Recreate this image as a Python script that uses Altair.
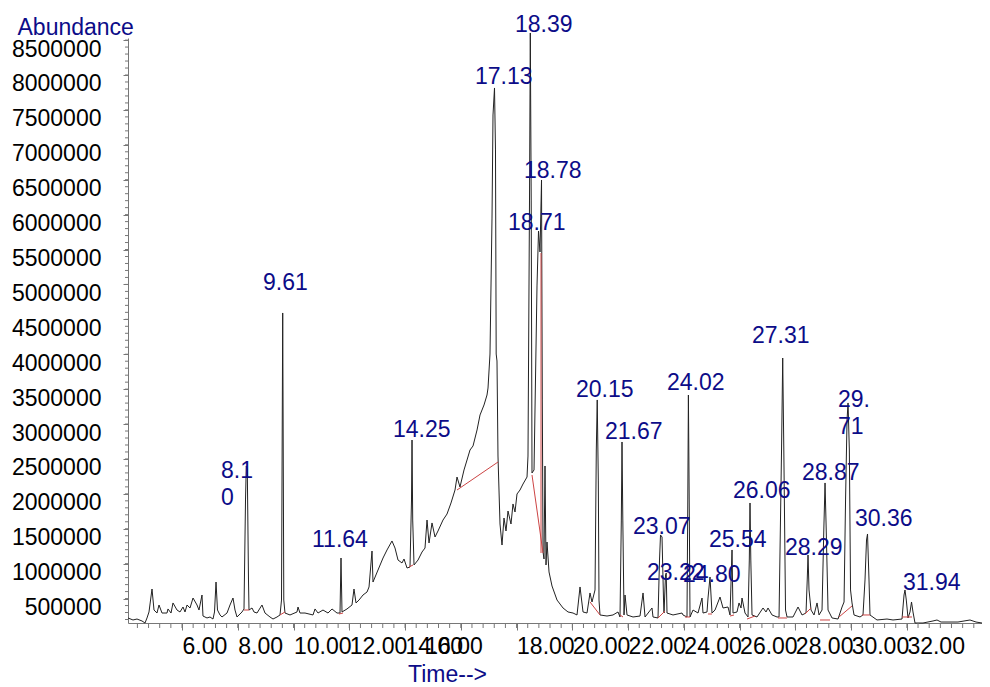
import altair as alt
import pandas as pd

# ---- chromatogram trace (retention time in min, abundance) ----
trace_time = [
    4.063, 4.242, 4.386, 4.565, 4.673, 4.745, 4.816, 4.924, 4.996, 5.103,
    5.175, 5.283, 5.462, 5.498, 5.606, 5.677, 5.821, 5.928, 6.036, 6.108,
    6.180, 6.287, 6.395, 6.538, 6.610, 6.717, 6.753, 6.897, 7.004, 7.112,
    7.166, 7.220, 7.273, 7.363, 7.435, 7.614, 7.722, 7.829, 7.901, 7.973,
    8.152, 8.224, 8.278, 8.306, 8.342, 8.385, 8.403, 8.511, 8.582, 8.690,
    8.869, 8.977, 9.156, 9.264, 9.407, 9.515, 9.569, 9.612, 9.651, 9.694,
    9.874, 10.125, 10.161, 10.232, 10.412, 10.699, 10.771, 10.878, 11.057, 11.237,
    11.380, 11.559, 11.667, 11.703, 11.739, 11.918, 12.097, 12.169, 12.241, 12.349,
    12.492, 12.636, 12.708, 12.815, 12.851, 13.030, 13.210, 13.353, 13.532, 13.640,
    13.748, 13.891, 13.963, 14.071, 14.178, 14.232, 14.250, 14.275, 14.322, 14.465,
    14.609, 14.716, 14.788, 14.860, 14.967, 15.075, 15.182, 15.361, 15.505, 15.648,
    15.792, 15.864, 15.971, 16.115, 16.223, 16.330, 16.438, 16.582, 16.689, 16.832,
    16.940, 16.976, 17.047, 17.119, 17.155, 17.209, 17.244, 17.269, 17.298, 17.334,
    17.406, 17.478, 17.549, 17.621, 17.693, 17.800, 17.872, 17.944, 18.016, 18.123,
    18.231, 18.375, 18.410, 18.464, 18.493, 18.525, 18.554, 18.626, 18.733, 18.787,
    18.841, 18.895, 18.923, 18.949, 18.984, 19.020, 19.056, 19.092, 19.164, 19.271,
    19.451, 19.666, 19.845, 20.025, 20.168, 20.276, 20.384, 20.527, 20.634, 20.706,
    20.814, 20.860, 20.893, 20.932, 20.957, 20.993, 21.244, 21.459, 21.639, 21.710,
    21.757, 21.782, 21.811, 21.854, 21.890, 21.962, 22.177, 22.428, 22.536, 22.608,
    22.858, 22.894, 23.073, 23.127, 23.163, 23.217, 23.271, 23.289, 23.343, 23.368,
    23.396, 23.611, 23.934, 23.970, 24.113, 24.142, 24.163, 24.192, 24.221, 24.329,
    24.508, 24.652, 24.687, 24.831, 24.867, 24.938, 25.010, 25.118, 25.297, 25.405,
    25.584, 25.656, 25.728, 25.763, 25.907, 25.979, 26.051, 26.086, 26.194, 26.302,
    26.348, 26.373, 26.402, 26.445, 26.624, 26.840, 26.947, 27.019, 27.163, 27.342,
    27.414, 27.504, 27.546, 27.586, 27.647, 27.701, 27.916, 28.095, 28.239, 28.382,
    28.425, 28.454, 28.490, 28.562, 28.669, 28.777, 28.849, 28.956, 29.020, 29.064,
    29.107, 29.172, 29.315, 29.530, 29.674, 29.746, 29.800, 29.853, 29.889, 29.936,
    29.979, 30.032, 30.104, 30.319, 30.426, 30.498, 30.552, 30.588, 30.641, 30.677,
    30.928, 31.287, 31.502, 31.825, 31.897, 31.932, 31.979, 32.040, 32.112, 32.166,
    32.219, 32.291, 32.578, 32.936, 33.080, 33.224, 33.833, 34.264, 34.479, 34.694,
]
trace_abundance = [
    222000, 193000, 207000, 179000, 150000, 222000, 308000, 637000, 336000, 293000,
    408000, 293000, 293000, 351000, 293000, 437000, 336000, 308000, 379000, 308000,
    408000, 365000, 508000, 408000, 336000, 551000, 250000, 222000, 236000, 207000,
    308000, 737000, 336000, 265000, 236000, 293000, 408000, 508000, 336000, 236000,
    308000, 351000, 1912000, 2399000, 2342000, 766000, 336000, 365000, 308000, 293000,
    408000, 293000, 236000, 207000, 236000, 265000, 479000, 4591000, 479000, 293000,
    265000, 308000, 379000, 293000, 293000, 265000, 351000, 293000, 336000, 293000,
    351000, 293000, 293000, 1081000, 308000, 351000, 408000, 637000, 437000, 479000,
    551000, 594000, 666000, 1181000, 737000, 909000, 1081000, 1196000, 1325000, 1224000,
    1052000, 1010000, 1067000, 938000, 952000, 1912000, 2771000, 1625000, 981000, 1052000,
    1167000, 1224000, 1625000, 1296000, 1583000, 1382000, 1468000, 1625000, 1711000, 1869000,
    2055000, 2241000, 2098000, 2342000, 2485000, 2628000, 2686000, 2915000, 3130000, 3273000,
    3416000, 3516000, 4003000, 5951000, 7427000, 7814000, 6926000, 4003000, 3903000, 2542000,
    1568000, 1267000, 1654000, 1468000, 1754000, 1568000, 1855000, 1740000, 1998000, 2055000,
    2141000, 2241000, 2542000, 6209000, 8602000, 6209000, 2299000, 2342000, 4978000, 5765000,
    5465000, 6496000, 3345000, 1167000, 1067000, 2399000, 981000, 1310000, 881000, 680000,
    479000, 365000, 308000, 293000, 265000, 666000, 308000, 293000, 580000, 451000,
    623000, 2628000, 3345000, 2198000, 479000, 265000, 250000, 265000, 308000, 236000,
    1625000, 2743000, 1625000, 265000, 551000, 265000, 236000, 250000, 580000, 236000,
    365000, 236000, 222000, 1052000, 1411000, 1382000, 479000, 293000, 838000, 866000,
    293000, 265000, 293000, 265000, 236000, 1912000, 3416000, 1912000, 236000, 336000,
    293000, 508000, 293000, 308000, 508000, 809000, 293000, 336000, 522000, 365000,
    379000, 265000, 1196000, 293000, 308000, 437000, 365000, 508000, 293000, 236000,
    1052000, 1869000, 1052000, 265000, 236000, 365000, 308000, 365000, 265000, 236000,
    236000, 2628000, 3946000, 2628000, 336000, 236000, 236000, 379000, 265000, 293000,
    766000, 1124000, 623000, 336000, 265000, 437000, 265000, 336000, 1482000, 2156000,
    1482000, 336000, 222000, 207000, 379000, 451000, 1912000, 3058000, 3302000, 2628000,
    623000, 437000, 265000, 236000, 265000, 766000, 1339000, 1425000, 766000, 265000,
    193000, 207000, 193000, 207000, 551000, 623000, 479000, 222000, 308000, 451000,
    308000, 150000, 150000, 179000, 193000, 164000, 164000, 193000, 164000, 150000,
]

# ---- integration baselines (red segments) ----
base_t0 = [15.864, 18.554, 18.877, 20.634, 8.224, 9.515, 11.631, 14.142, 21.710, 23.073,
           24.041, 24.867, 25.656, 26.266, 27.378, 28.346, 28.884, 29.566, 30.390, 31.825]
base_a0 = [2055000, 2270000, 5450000, 451000, 336000, 265000, 279000, 952000, 265000, 222000,
           236000, 279000, 250000, 207000, 222000, 279000, 193000, 236000, 265000, 236000]
base_t1 = [17.334, 18.949, 18.877, 20.993, 8.403, 9.694, 11.775, 14.286, 21.818, 23.325,
           24.221, 25.010, 25.799, 26.553, 27.701, 28.562, 29.243, 30.032, 30.677, 32.183]
base_a1 = [2456000, 1153000, 1153000, 265000, 336000, 308000, 293000, 981000, 236000, 322000,
           236000, 279000, 265000, 250000, 222000, 365000, 193000, 394000, 265000, 236000]

# ---- peak annotations ----
peak_labels = ["8.1\n0", "9.61", "11.64", "14.25", "17.13", "18.39", "18.78", "18.71",
               "20.15", "21.67", "23.07", "23.22", "24.02", "24.80", "25.54", "26.06",
               "27.31", "28.29", "28.87", "29.\n71", "30.36", "31.94"]
label_time = [7.399, 8.905, 10.663, 13.568, 16.510, 17.944, 18.267, 17.693,
              20.132, 21.172, 22.177, 22.679, 23.396, 23.970, 24.903, 25.763,
              26.445, 27.629, 28.238, 29.530, 30.139, 31.861]
label_abundance = [2327000, 5020000, 1339000, 2915000, 7971000, 8716000, 6625000, 5880000,
                   3488000, 2886000, 1525000, 866000, 3588000, 838000, 1339000, 2041000,
                   4261000, 1224000, 2299000, 3344000, 1640000, 723000]

# ---- axis ticks ----
x_major = [6, 8, 10, 12, 14, 16, 18, 20, 22, 24, 26, 28, 30, 32]
x_minor = [round(4.4 + 0.4 * i, 1) for i in range(76)]
y_major = [500000, 1000000, 1500000, 2000000, 2500000, 3000000, 3500000, 4000000,
           4500000, 5000000, 5500000, 6000000, 6500000, 7000000, 7500000, 8000000, 8500000]
y_minor = [200000 + 100000 * i for i in range(84)]

NAVY = "#0c0c88"
FONT = "Liberation Sans"

xs = alt.Scale(domain=[4.063, 34.694], nice=False, zero=False)
ys = alt.Scale(domain=[150000, 8530000], nice=False, zero=False)

trace_df = pd.DataFrame({"i": range(len(trace_time)), "t": trace_time, "a": trace_abundance})
base_df = pd.DataFrame({"t": base_t0, "a": base_a0, "t1": base_t1, "a1": base_a1})
lab_df = pd.DataFrame({"label": peak_labels, "t": label_time, "a": label_abundance})
xminor_df = pd.DataFrame({"t": x_minor})
yminor_df = pd.DataFrame({"a": y_minor})

x_axis = alt.Axis(
    values=x_major, format=".2f", labelAlign="left", labelBaseline="top",
    labelPadding=5, tickSize=7, labelFont=FONT, labelFontSize=23, labelColor="black",
    labelOverlap=False, labelFlush=False,
    labelOffset={"condition": {"test": "datum.value == 16", "value": -36}, "value": 0},
    domainColor="#777777", tickColor="#777777", grid=False,
    title="Time-->", titleFont=FONT, titleFontSize=23, titleColor=NAVY,
    titleFontWeight="normal", titleX=319, titleY=58, titleAlign="center",
    titleBaseline="alphabetic",
)
y_axis = alt.Axis(
    values=y_major, format="d", labelAlign="right", labelBaseline="middle",
    labelOffset=9, labelPadding=22, tickSize=5, labelFont=FONT, labelFontSize=23,
    labelColor="black", labelOverlap=False, labelFlush=False,
    domainColor="#777777", tickColor="#777777", grid=False,
    title="Abundance", titleAngle=0, titleX=-111, titleY=-4, titleAlign="left",
    titleBaseline="alphabetic", titleFont=FONT, titleFontSize=23, titleColor=NAVY,
    titleFontWeight="normal",
)

X = alt.X("t:Q", scale=xs, axis=x_axis, title="Time-->")
Y = alt.Y("a:Q", scale=ys, axis=y_axis, title="Abundance")

trace = alt.Chart(trace_df).mark_line(color="#222222", strokeWidth=1).encode(
    x=X, y=Y, order=alt.Order("i:Q"),
)

baselines = alt.Chart(base_df).mark_rule(color="#cc4444", strokeWidth=1).encode(
    x=X, y=Y, x2="t1:Q", y2="a1:Q",
)

xminor = alt.Chart(xminor_df).mark_rule(color="#777777", strokeWidth=1).encode(
    x=X, y=alt.value(585), y2=alt.value(590),
)

yminor = alt.Chart(yminor_df).mark_rule(color="#777777", strokeWidth=1).encode(
    y=Y, x=alt.value(-3), x2=alt.value(0),
)

labels = alt.Chart(lab_df).mark_text(
    align="left", baseline="middle", font=FONT, fontSize=23, color=NAVY,
    lineBreak="\n", lineHeight=27,
).encode(
    x=X, y=Y, text="label:N",
)

chart = alt.layer(trace, baselines, xminor, yminor, labels).properties(
    width=854, height=585,
    padding={"left": 120, "top": 30, "right": 0, "bottom": 70},
    autosize=alt.AutoSizeParams(type="none"),
).configure_view(stroke=None)

chart.save("out.html", embed_options={"renderer": "svg", "actions": False})
